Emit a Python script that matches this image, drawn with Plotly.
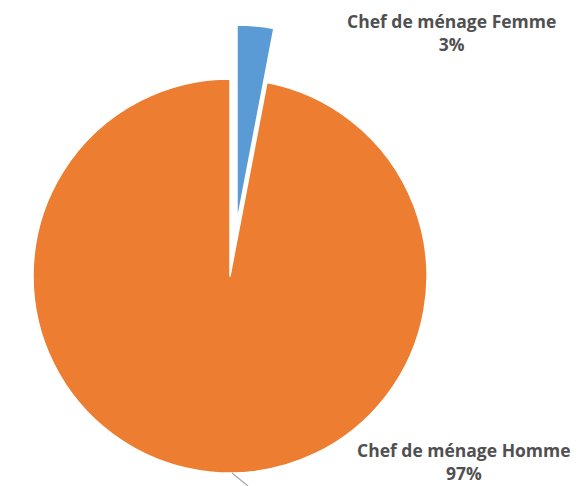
import plotly.graph_objects as go

# ---- data ----
labels = ["Chef de ménage Femme", "Chef de ménage Homme"]
values = [3, 97]
pct_text = ["3%", "97%"]
colors = ["#5B9BD5", "#ED7D31"]

W, H = 581, 486
R = 197  # pie radius in px

def dom(cx, cy, r):
    return dict(x=[(cx - r) / W, (cx + r) / W],
                y=[(H - (cy + r)) / H, (H - (cy - r)) / H])

clear = "rgba(0,0,0,0)"

fig = go.Figure()
# main (orange) part, blue slot left empty
fig.add_trace(go.Pie(
    labels=labels, values=values, sort=False, direction="clockwise", rotation=0,
    marker=dict(colors=[clear, colors[1]], line=dict(color="white", width=[0, 1.5])),
    textinfo="none", hoverinfo="skip", showlegend=False,
    domain=dom(230, 276, R),
))
# exploded (blue) slice
fig.add_trace(go.Pie(
    labels=labels, values=values, sort=False, direction="clockwise", rotation=0,
    marker=dict(colors=[colors[0], clear], line=dict(color="white", width=[1.5, 0])),
    textinfo="none", hoverinfo="skip", showlegend=False,
    domain=dom(237, 222, R),
))

label_pos = [(451, 32), (464, 461)]
for lab, pt, (px, py) in zip(labels, pct_text, label_pos):
    fig.add_annotation(
        x=px / W, y=(H - py) / H, xref="paper", yref="paper",
        text=f"<b>{lab}<br>{pt}</b>", showarrow=False,
        font=dict(family="Open Sans", size=17.5, color="#505050"),
        xanchor="center", yanchor="middle", align="center",
    )

fig.add_shape(type="line", xref="paper", yref="paper",
              x0=232 / W, y0=(H - 473) / H, x1=248 / W, y1=0,
              line=dict(color="#A6A6A6", width=1.2))

fig.update_layout(
    width=W, height=H, margin=dict(l=0, r=0, t=0, b=0),
    paper_bgcolor="white", plot_bgcolor="white",
)
fig.write_html("out.html")
